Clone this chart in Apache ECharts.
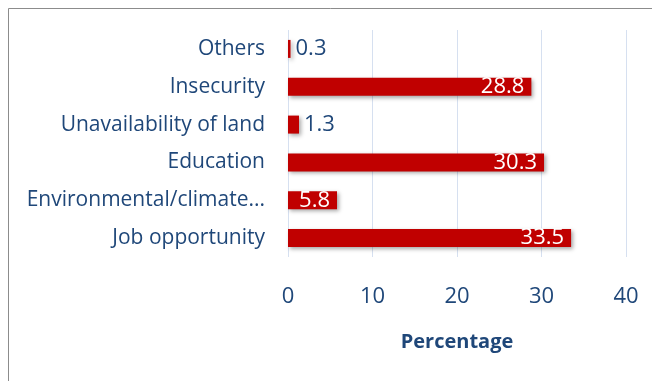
<!DOCTYPE html>
<html>
<head>
<meta charset="utf-8">
<script src="https://cdn.jsdelivr.net/npm/echarts@6/dist/echarts.min.js"></script>
<style>
  html, body { margin: 0; padding: 0; background: #fff; }
  #chart { width: 652px; height: 381px; }
</style>
</head>
<body>
<div id="chart"></div>
<script>
// Reasons, listed bottom to top as drawn on the category axis
const categories = ['Job opportunity', 'Environmental/climate change', 'Education', 'Unavailability of land', 'Insecurity', 'Others'];
const percentages = [33.5, 5.8, 30.3, 1.3, 28.8, 0.3];
const xTicks = [0, 10, 20, 30, 40];

const textColor = '#1F4779';
const fontFamily = '"Open Sans", Lato, sans-serif';

const chart = echarts.init(document.getElementById('chart'));

// Very short bars carry their value just outside; the rest carry it inside the end
const barData = percentages.map(v => ({
  value: v,
  label: v < 3
    ? { position: 'right', color: textColor, distance: 5 }
    : { position: 'insideRight', color: '#ffffff', distance: 7 }
}));

chart.setOption({
  animation: false,
  backgroundColor: '#ffffff',
  graphic: [{
    type: 'rect',
    shape: { x: 8.5, y: 8.5, width: 700, height: 420 },
    style: { fill: 'none', stroke: '#8C8C8C', lineWidth: 1 },
    silent: true
  }],
  grid: { left: 288, right: 26, top: 30, bottom: 124 },
  xAxis: {
    type: 'value',
    min: xTicks[0],
    max: xTicks[xTicks.length - 1],
    interval: 10,
    name: 'Percentage',
    nameLocation: 'middle',
    nameGap: 75,
    nameTextStyle: { color: textColor, fontSize: 20, fontWeight: 'bold', fontFamily },
    axisLine: { show: false },
    axisTick: { show: false },
    axisLabel: { color: textColor, fontSize: 22, fontFamily, margin: 29 },
    splitLine: { lineStyle: { color: '#D6E0F0', width: 1 } }
  },
  yAxis: {
    type: 'category',
    data: categories,
    axisLine: { show: false },
    axisTick: { show: false },
    axisLabel: {
      color: textColor, fontSize: 21, fontFamily, margin: 23,
      width: 240, overflow: 'truncate', ellipsis: '...'
    }
  },
  series: [{
    type: 'bar',
    data: barData,
    barWidth: 18,
    itemStyle: {
      color: '#C00000',
      shadowColor: 'rgba(0,0,0,0.35)',
      shadowBlur: 4,
      shadowOffsetX: 2,
      shadowOffsetY: 2
    },
    label: { show: true, fontSize: 22, fontFamily }
  }]
});
</script>
</body>
</html>
